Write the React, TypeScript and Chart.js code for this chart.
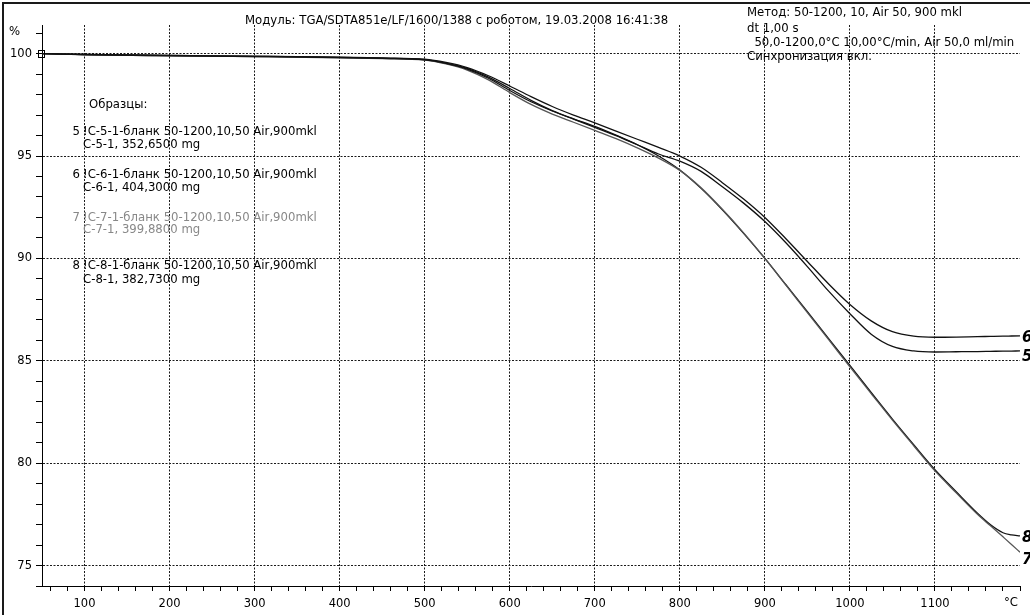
import React, { useEffect, useRef } from "react";
import { Chart, registerables } from "chart.js";

Chart.register(...registerables);

// ---- data ----
const temperatures = [50, 100, 200, 300, 400, 450, 500, 525, 550, 575, 600, 625, 650, 675, 700, 725, 750, 775, 800, 825, 850, 875, 900, 925, 950, 975, 1000, 1025, 1050, 1075, 1100, 1125, 1150, 1165, 1180, 1190, 1200];
const sample5 = [100, 99.95, 99.9, 99.86, 99.81, 99.77, 99.7, 99.53, 99.25, 98.8, 98.2, 97.65, 97.2, 96.8, 96.4, 96.0, 95.55, 95.1, 94.75, 94.25, 93.5, 92.7, 91.8, 90.75, 89.6, 88.4, 87.3, 86.3, 85.7, 85.48, 85.43, 85.44, 85.45, 85.46, 85.47, 85.475, 85.48];
const sample6 = [100, 99.96, 99.91, 99.88, 99.83, 99.79, 99.73, 99.57, 99.32, 98.92, 98.42, 97.9, 97.42, 97.0, 96.62, 96.22, 95.82, 95.42, 95.0, 94.45, 93.7, 92.9, 92.0, 90.95, 89.85, 88.75, 87.75, 86.95, 86.42, 86.2, 86.15, 86.16, 86.18, 86.19, 86.2, 86.21, 86.22];
const sample7 = [100, 99.95, 99.9, 99.86, 99.8, 99.76, 99.69, 99.5, 99.2, 98.72, 98.1, 97.52, 97.05, 96.65, 96.25, 95.85, 95.4, 94.9, 94.3, 93.45, 92.4, 91.25, 90.0, 88.68, 87.35, 86.03, 84.7, 83.4, 82.1, 80.85, 79.62, 78.55, 77.5, 76.95, 76.4, 76.03, 75.65];
const sample8 = [100, 99.96, 99.91, 99.87, 99.82, 99.78, 99.71, 99.54, 99.28, 98.85, 98.3, 97.72, 97.22, 96.82, 96.45, 96.02, 95.55, 95.0, 94.32, 93.42, 92.37, 91.22, 90.0, 88.7, 87.4, 86.08, 84.78, 83.45, 82.15, 80.9, 79.68, 78.6, 77.55, 77.0, 76.6, 76.5, 76.45];

const seriesNames = ["5", "6", "7", "8"];
const seriesValues = [sample5, sample6, sample7, sample8];
const seriesColors = ["#111", "#111", "#555", "#111"];

const xMin = 50;
const xMax = 1200;
const xMinorStep = 20;
const xMajorStep = 100;
const yMin = 74;
const yMax = 101.4;
const yMinorStep = 1;
const yMajorStep = 5;

const headerTitle = "Модуль: TGA/SDTA851e/LF/1600/1388 с роботом, 19.03.2008 16:41:38";
const methodLines = [
  "Метод: 50-1200, 10, Air 50, 900 mkl",
  "dt 1,00 s",
  "  50,0-1200,0°C 10,00°C/min, Air 50,0 ml/min",
  "Синхронизация вкл.",
];
const legendHeader = "Образцы:";
const legendNumbers = ["5", "6", "7", "8"];
const legendLine1 = [
  "!C-5-1-бланк 50-1200,10,50 Air,900mkl",
  "!C-6-1-бланк 50-1200,10,50 Air,900mkl",
  "!C-7-1-бланк 50-1200,10,50 Air,900mkl",
  "!C-8-1-бланк 50-1200,10,50 Air,900mkl",
];
const legendLine2 = ["C-5-1, 352,6500 mg", "C-6-1, 404,3000 mg", "C-7-1, 399,8800 mg", "C-8-1, 382,7300 mg"];
const legendColors = ["#000", "#000", "#888", "#000"];
const endLabels = ["5", "6", "7", "8"];
const yUnit = "%";
const xUnit = "°C";

const FONT = '"DejaVu Sans", Verdana, sans-serif';

const annotationPlugin = {
  id: "annotationPlugin",
  afterDraw(chart: any) {
    const ctx = chart.ctx as CanvasRenderingContext2D;
    const xs = chart.scales.x;
    const ys = chart.scales.y;
    ctx.save();
    // frame lines (top and left)
    ctx.strokeStyle = "#1a1a1a";
    ctx.lineWidth = 2;
    ctx.beginPath();
    ctx.moveTo(3, 615);
    ctx.lineTo(3, 3);
    ctx.lineTo(1030, 3);
    ctx.stroke();

    ctx.fillStyle = "#000";
    ctx.textBaseline = "middle";
    ctx.textAlign = "left";
    ctx.font = `11.7px ${FONT}`;
    ctx.fillText(headerTitle, 245, 21);
    const mY = [13, 29, 43, 57];
    methodLines.forEach((t, i) => ctx.fillText(t, 747, mY[i]));

    // units
    ctx.fillText(yUnit, 9, 32);
    ctx.textAlign = "center";
    ctx.fillText(xUnit, 1011, 603);

    // legend
    ctx.textAlign = "left";
    ctx.fillText(legendHeader, 89, 105);
    const l1 = [132, 175, 218, 266];
    const l2 = [145, 188, 230, 280];
    legendNumbers.forEach((n, i) => {
      ctx.fillStyle = legendColors[i];
      ctx.textAlign = "right";
      ctx.fillText(n, 80, l1[i]);
      ctx.textAlign = "left";
      ctx.fillText(legendLine1[i], 83, l1[i]);
      ctx.fillText(legendLine2[i], 83, l2[i]);
    });

    // start marker
    ctx.strokeStyle = "#000";
    ctx.lineWidth = 1;
    const sx = xs.getPixelForValue(temperatures[0]);
    const sy = ys.getPixelForValue(sample5[0]);
    ctx.strokeRect(Math.round(sx) - 3.5, Math.round(sy) - 3.5, 6, 7);

    // end labels
    ctx.fillStyle = "#000";
    ctx.font = `italic bold 15px ${FONT}`;
    ctx.textAlign = "left";
    endLabels.forEach((lab, i) => {
      const vals = seriesValues[i];
      const y = ys.getPixelForValue(vals[vals.length - 1]);
      const off = lab === "5" ? 6 : lab === "7" ? 8 : 2;
      ctx.fillText(lab, 1022, y + off);
    });
    ctx.restore();
  },
};

export default function App() {
  const ref = useRef<HTMLCanvasElement | null>(null);
  useEffect(() => {
    if (!ref.current) return;
    const datasets = seriesNames.map((name, i) => ({
      label: name,
      data: temperatures.map((t, j) => ({ x: t, y: seriesValues[i][j] })),
      borderColor: seriesColors[i],
      borderWidth: 1.3,
      pointRadius: 0,
      fill: false,
      cubicInterpolationMode: "monotone" as const,
    }));
    const chart = new Chart(ref.current, {
      type: "line",
      data: { datasets },
      plugins: [annotationPlugin],
      options: {
        animation: false,
        responsive: false,
        devicePixelRatio: 1,
        layout: { padding: { top: 25, right: 10, left: 0, bottom: 0 } },
        plugins: { legend: { display: false }, tooltip: { enabled: false }, title: { display: false } },
        scales: {
          x: {
            type: "linear",
            min: xMin,
            max: xMax,
            afterFit: (s: any) => {
              s.height = 29;
            },
            ticks: {
              stepSize: xMinorStep,
              includeBounds: false,
              autoSkip: false,
              maxRotation: 0,
              padding: 6,
              color: "#000",
              font: { family: FONT, size: 11.5 },
              callback: (v: any) => (Number(v) % xMajorStep === 0 && Number(v) < xMax ? String(v) : ""),
            },
            grid: {
              color: (c: any) =>
                c.tick && c.tick.value % xMajorStep === 0 && c.tick.value < xMax ? "#1a1a1a" : "rgba(0,0,0,0)",
              lineWidth: 1,
              tickColor: "#000",
              tickLength: 5,
              drawTicks: true,
            },
            border: { display: true, color: "#000", width: 1, dash: [2, 1.5] },
          },
          y: {
            type: "linear",
            min: yMin,
            max: yMax,
            afterFit: (s: any) => {
              s.width = 42;
            },
            ticks: {
              stepSize: yMinorStep,
              includeBounds: false,
              autoSkip: false,
              padding: 4,
              color: "#000",
              font: { family: FONT, size: 11.5 },
              callback: (v: any) => (Number(v) % yMajorStep === 0 ? String(v) : ""),
            },
            grid: {
              color: (c: any) => (c.tick && c.tick.value % yMajorStep === 0 ? "#1a1a1a" : "rgba(0,0,0,0)"),
              lineWidth: 1,
              tickColor: "#000",
              tickLength: 6,
              drawTicks: true,
            },
            border: { display: true, color: "#000", width: 1, dash: [2, 1.5] },
          },
        },
      },
    });
    return () => chart.destroy();
  }, []);
  return (
    <div style={{ position: "fixed", left: 0, top: 0, width: 1030, height: 615, background: "#fff" }}>
      <canvas ref={ref} width={1030} height={615} style={{ display: "block", width: 1030, height: 615 }} />
    </div>
  );
}
